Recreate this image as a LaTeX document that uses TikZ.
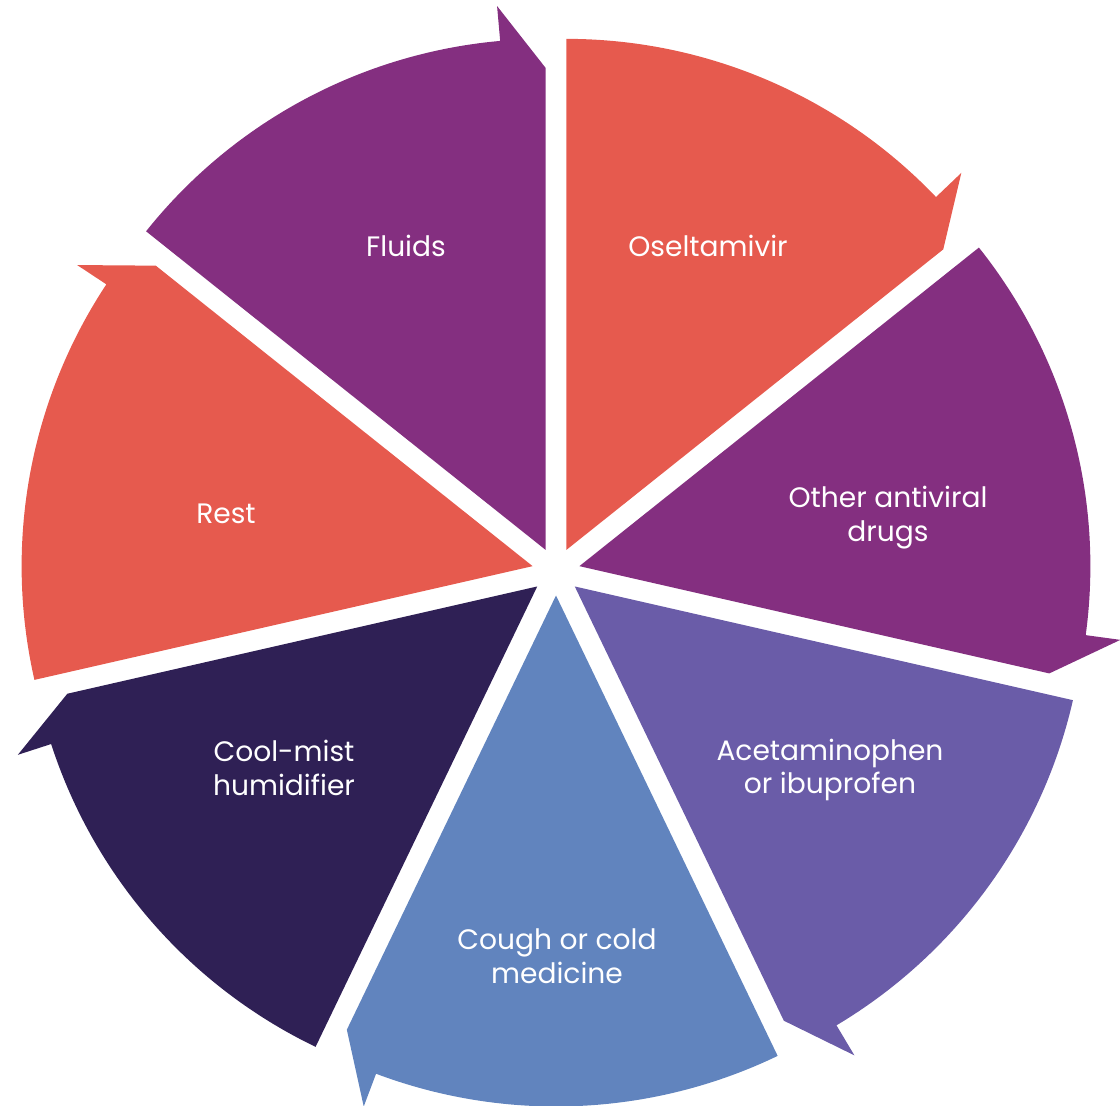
\documentclass[tikz,border=0pt]{standalone}
\usepackage{fontspec}
\setmainfont{Poppins}
\definecolor{segred}{HTML}{E65A4E}
\definecolor{segpurple}{HTML}{842F80}
\definecolor{segslate}{HTML}{6A5CA8}
\definecolor{segblue}{HTML}{6184BE}
\definecolor{segnavy}{HTML}{2F2055}
\begin{document}
\begin{tikzpicture}[x=0.02cm,y=0.02cm,
    seglabel/.style={text=white,align=center,font=\fontsize{16}{19.3}\selectfont}]
  \useasboundingbox (0,0) rectangle (1120,1106);
  \coordinate (c) at (556,534.5);
  % seven pie pieces, pulled out a bit, each with its arrow head at the clockwise end
  \foreach \s/\col [evaluate=\s as \e using \s-51.43,
                    evaluate=\s as \t using \s-46.33,
                    evaluate=\s as \b using \s-25.71] in
      {90/segred,38.57/segpurple,-12.86/segslate,-64.29/segblue,
       -115.71/segnavy,-167.14/segred,-218.57/segpurple}
    \fill[\col,shift={(c)},shift={(\b:24)}]
      (0,0) -- (\s:511) arc[start angle=\s,end angle=\t,radius=511]
      -- (\t:546) -- (\e:482) -- cycle;
  \node[seglabel] (osel) at (708,860) {Oseltamivir};
  \node[seglabel] (antiv) at (888,588) {Other antiviral\\drugs};
  \node[seglabel] (acet) at (830,336) {Acetaminophen\\or ibuprofen};
  \node[seglabel] (cough) at (557,150) {Cough or cold\\medicine};
  \node[seglabel] (mist) at (284,338) {Cool-mist\\humidifier};
  \node[seglabel] (rest) at (226,592) {Rest};
  \node[seglabel] (fluids) at (406,860) {Fluids};
\end{tikzpicture}
\end{document}
